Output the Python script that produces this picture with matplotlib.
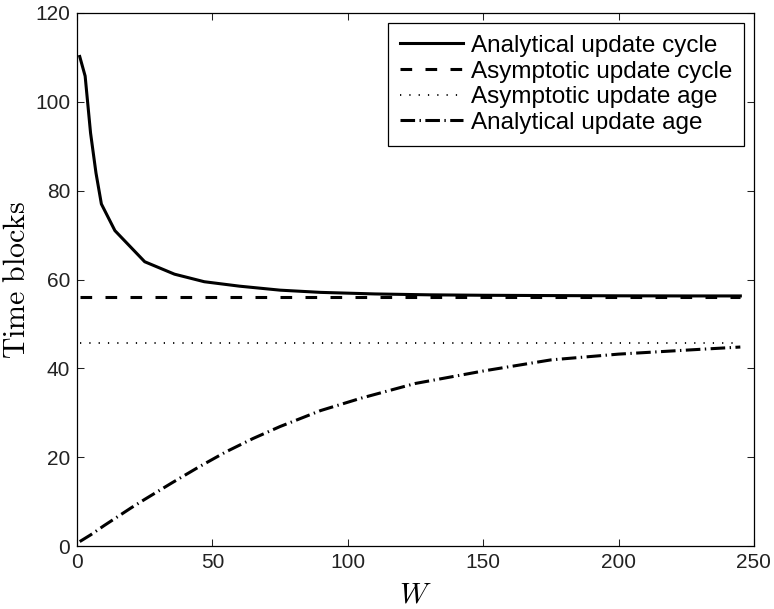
import matplotlib
matplotlib.use("Agg")
import matplotlib.pyplot as plt

plt.rcParams['font.family'] = ['Liberation Sans', 'DejaVu Sans']
plt.rcParams['mathtext.fontset'] = 'cm'
plt.rcParams['lines.scale_dashes'] = False

# Data
w_cycle = [1, 3, 5, 7, 9, 14, 25, 36, 47, 60, 75, 90, 110, 130, 150, 175, 200, 225, 245]
cycle = [110.2, 105.8, 93.0, 84.0, 77.0, 71.0, 64.0, 61.2, 59.5, 58.5, 57.6, 57.1,
         56.75, 56.55, 56.45, 56.38, 56.33, 56.3, 56.3]

w_age = [1, 5, 10, 15, 20, 25, 35, 45, 55, 65, 75, 90, 105, 125, 150, 175, 200, 225, 245]
age = [1.0, 2.5, 4.6, 6.6, 8.6, 10.5, 14.2, 17.8, 21.2, 24.2, 26.9, 30.5, 33.3, 36.6,
       39.4, 41.9, 43.2, 44.1, 44.8]

asym_cycle = 56.0
asym_age = 45.6
w_range = [1, 245]

labels = ['Analytical update cycle', 'Asymptotic update cycle',
          'Asymptotic update age', 'Analytical update age']

fig = plt.figure(figsize=(7.74, 6.09), dpi=100)
ax = fig.add_axes([0.0995, 0.1034, 0.8745, 0.8753])

ax.plot(w_cycle, cycle, color='black', lw=2.2, ls='-', label=labels[0])
ax.plot(w_range, [asym_cycle] * 2, color='black', lw=2.2, ls=(0, (8.4, 9.6)), label=labels[1])
ax.plot(w_range, [asym_age] * 2, color='black', lw=1.3, ls=(0, (0.9, 5.8)), label=labels[2])
ax.plot(w_age, age, color='black', lw=2.2, ls=(0, (10.5, 3.2, 1.0, 3.2)), label=labels[3])

ax.set_xlim(0, 250)
ax.set_ylim(0, 120)
ax.set_xticks([0, 50, 100, 150, 200, 250])
ax.set_yticks([0, 20, 40, 60, 80, 100, 120])
ax.tick_params(direction='in', length=4.8, width=0.75, top=True, right=True,
               labelsize=15, pad=5, colors='#222222', labelcolor='#222222')
for s in ax.spines.values():
    s.set_linewidth(0.9)

ax.set_xlabel(r'$W$', fontsize=21, labelpad=6)
ax.set_ylabel(r'$\mathrm{Time\ blocks}$', fontsize=21.5, labelpad=3)

leg = ax.legend(loc='upper right', fontsize=17.5, frameon=True, fancybox=False,
                edgecolor='black', framealpha=1, handlelength=2.6, handletextpad=0.3,
                labelspacing=0.15, borderpad=0.5, borderaxespad=0.4)
leg.get_frame().set_linewidth(0.9)

fig.savefig('out.png', dpi=100)
